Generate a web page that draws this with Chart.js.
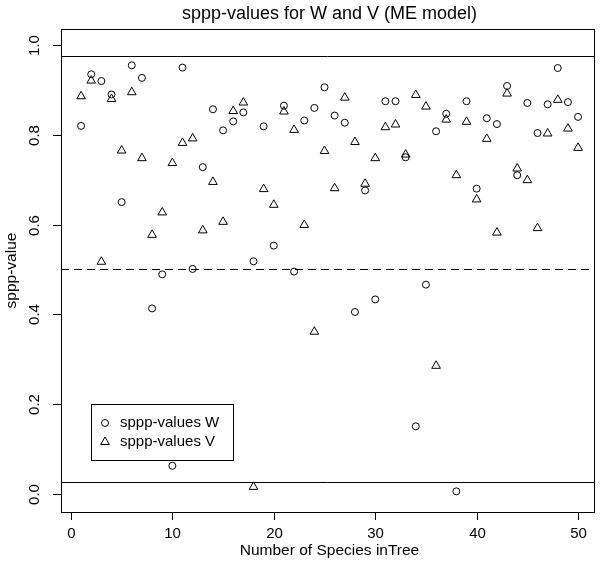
<!DOCTYPE html>
<html>
<head>
<meta charset="utf-8">
<script src="https://cdn.jsdelivr.net/npm/chart.js@4.4.0/dist/chart.umd.min.js"></script>
<style>
html,body{margin:0;padding:0;background:#fff;}
#wrap{width:600px;height:563px;position:relative;}
</style>
</head>
<body>
<div id="wrap"><canvas id="c" width="600" height="563"></canvas></div>
<script>
const species = [1,2,3,4,5,6,7,8,9,10,11,12,13,14,15,16,17,18,19,20,21,22,23,24,25,26,27,28,29,30,31,32,33,34,35,36,37,38,39,40,41,42,43,44,45,46,47,48,49,50];
const spppW = [0.82,0.935,0.92,0.89,0.65,0.955,0.927,0.413,0.489,0.062,0.95,0.501,0.728,0.857,0.81,0.83,0.85,0.518,0.819,0.553,0.865,0.495,0.832,0.86,0.906,0.843,0.827,0.405,0.676,0.433,0.875,0.875,0.75,0.15,0.466,0.808,0.847,0.005,0.875,0.68,0.837,0.824,0.909,0.71,0.871,0.804,0.868,0.949,0.873,0.84];
const spppV = [0.886,0.921,0.517,0.88,0.765,0.895,0.748,0.577,0.627,0.737,0.782,0.792,0.587,0.695,0.606,0.853,0.872,0.015,0.679,0.644,0.852,0.811,0.599,0.361,0.764,0.681,0.883,0.784,0.691,0.748,0.817,0.823,0.756,0.889,0.863,0.285,0.834,0.71,0.829,0.656,0.791,0.582,0.892,0.725,0.699,0.592,0.803,0.878,0.814,0.771];
const xTicks = [0,10,20,30,40,50];
const yTicks = [0.0,0.2,0.4,0.6,0.8,1.0];
const yTickLabels = ["0.0","0.2","0.4","0.6","0.8","1.0"];
const solidRefLines = [0.025, 0.975];
const dashedRefLines = [0.5];
const titleText = "sppp-values for W and V (ME model)";
const xTitle = "Number of Species inTree";
const yTitle = "sppp-value";
const legendLabels = ["sppp-values W","sppp-values V"];

const FONT = '"Liberation Sans", Arial, Helvetica, sans-serif';

const rPlot = {
  id: 'rplot',
  beforeDatasetsDraw(chart) {
    const {ctx, chartArea: a, scales: {y}} = chart;
    ctx.save();
    ctx.strokeStyle = '#000';
    ctx.lineWidth = 1;
    solidRefLines.forEach(v => {
      const py = Math.round(y.getPixelForValue(v)) + 0.5;
      ctx.beginPath(); ctx.moveTo(a.left, py); ctx.lineTo(a.right, py); ctx.stroke();
    });
    ctx.setLineDash([8,5]);
    dashedRefLines.forEach(v => {
      const py = Math.round(y.getPixelForValue(v)) + 0.5;
      ctx.beginPath(); ctx.moveTo(a.left, py); ctx.lineTo(a.right, py); ctx.stroke();
    });
    ctx.restore();
  },
  afterDraw(chart) {
    const {ctx, chartArea: a, scales: {x, y}} = chart;
    ctx.save();
    ctx.strokeStyle = '#000';
    ctx.fillStyle = '#000';
    ctx.lineWidth = 1;
    // box
    ctx.strokeRect(Math.round(a.left)+0.5, Math.round(a.top)+0.5, Math.round(a.right-a.left), Math.round(a.bottom-a.top));
    // x ticks
    ctx.font = '15px ' + FONT;
    ctx.textAlign = 'center';
    ctx.textBaseline = 'alphabetic';
    xTicks.forEach(v => {
      const px = Math.round(x.getPixelForValue(v)) + 0.5;
      ctx.beginPath(); ctx.moveTo(px, a.bottom); ctx.lineTo(px, a.bottom + 8); ctx.stroke();
      ctx.fillText(String(v), px, a.bottom + 26);
    });
    // y ticks
    yTicks.forEach((v, i) => {
      const py = Math.round(y.getPixelForValue(v)) + 0.5;
      ctx.beginPath(); ctx.moveTo(a.left, py); ctx.lineTo(a.left - 8, py); ctx.stroke();
      ctx.save();
      ctx.translate(a.left - 22, py);
      ctx.rotate(-Math.PI/2);
      ctx.textAlign = 'center';
      ctx.fillText(yTickLabels[i], 0, 0);
      ctx.restore();
    });
    // axis titles
    ctx.font = '15.5px ' + FONT;
    ctx.textAlign = 'center';
    ctx.fillText(xTitle, (a.left + a.right)/2 + 2, 555);
    ctx.save();
    ctx.translate(16, (a.top + a.bottom)/2);
    ctx.rotate(-Math.PI/2);
    ctx.fillText(yTitle, 0, 0);
    ctx.restore();
    // title
    ctx.font = '18px ' + FONT;
    ctx.fillText(titleText, (a.left + a.right)/2 + 2, 19);
    // legend
    const lx = 91.5, ly = 404.5, lw = 142, lh = 56;
    ctx.fillStyle = '#fff';
    ctx.fillRect(lx, ly, lw, lh);
    ctx.strokeRect(lx, ly, lw, lh);
    ctx.fillStyle = 'rgba(0,0,0,0)';
    ctx.strokeStyle = '#000';
    Chart.helpers.drawPoint(ctx, {pointStyle: 'circle', radius: 3.5, borderWidth: 1}, 105, 423);
    Chart.helpers.drawPoint(ctx, {pointStyle: 'triangle', radius: 5, borderWidth: 1}, 105, 442);
    ctx.fillStyle = '#000';
    ctx.font = '15px ' + FONT;
    ctx.textAlign = 'left';
    ctx.textBaseline = 'middle';
    ctx.fillText(legendLabels[0], 120, 423);
    ctx.fillText(legendLabels[1], 120, 442);
    ctx.restore();
  }
};

new Chart(document.getElementById('c'), {
  type: 'scatter',
  data: {
    datasets: [
      { label: legendLabels[0], data: species.map((s,i)=>({x:s, y:spppW[i]})),
        pointStyle: 'circle', radius: 3.5, borderColor: '#000', backgroundColor: 'rgba(0,0,0,0)', borderWidth: 1 },
      { label: legendLabels[1], data: species.map((s,i)=>({x:s, y:spppV[i]})),
        pointStyle: 'triangle', radius: 5, borderColor: '#000', backgroundColor: 'rgba(0,0,0,0)', borderWidth: 1 }
    ]
  },
  options: {
    responsive: false,
    animation: false,
    events: [],
    layout: { padding: { left: 61, right: 4, top: 29, bottom: 51 } },
    plugins: { legend: { display: false }, title: { display: false }, tooltip: { enabled: false } },
    scales: {
      x: { type: 'linear', min: -0.98, max: 51.57, display: false },
      y: { type: 'linear', min: -0.041, max: 1.036, display: false }
    }
  },
  plugins: [rPlot]
});
</script>
</body>
</html>
